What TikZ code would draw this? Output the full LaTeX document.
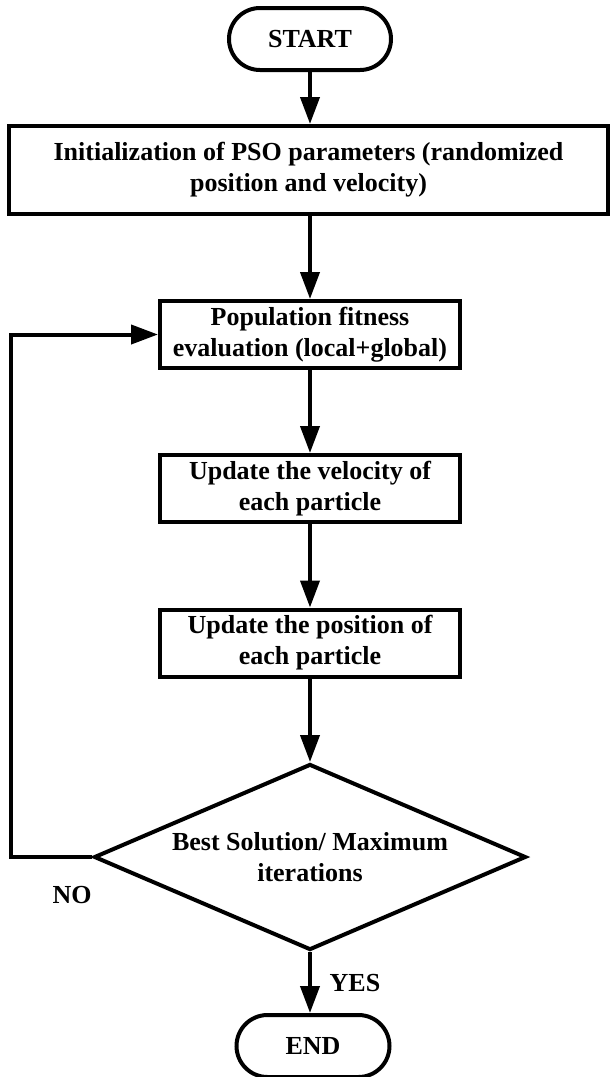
\documentclass[tikz,border=0pt]{standalone}
\usepackage{fontspec}
\setmainfont{Liberation Serif}
\usetikzlibrary{shapes.geometric,arrows.meta}
\begin{document}
\begin{tikzpicture}[x=1pt,y=-1pt,
  every node/.style={font=\fontsize{26}{31}\selectfont\bfseries},
  box/.style={draw,line width=4pt,align=center,inner sep=0pt},
  term/.style={box,rounded corners=31pt,minimum width=162pt,minimum height=62pt},
  proc/.style={box,minimum width=300pt,minimum height=67pt},
  decision/.style={draw,line width=4pt,diamond,aspect=2.29,align=center,inner sep=0pt,minimum width=432pt,minimum height=186pt},
  arr/.style={line width=4pt,-{Triangle[width=19pt,length=27pt]}},
  lbl/.style={inner sep=0pt}]
\useasboundingbox (0,0) rectangle (610,1077);
\node[term] (start) at (310,39) {START};
\node[proc,minimum width=599pt,minimum height=88pt] (init) at (308.5,170) {Initialization of PSO parameters (randomized\\position and velocity)};
\node[proc] (pop) at (310,334.5) {Population fitness\\evaluation (local+global)};
\node[proc] (vel) at (310,488.5) {Update the velocity of\\each particle};
\node[proc] (pos) at (310,643) {Update the position of\\each particle};
\node[decision] (dec) at (310,857) {Best Solution/ Maximum\\iterations};
\node[term,minimum width=153pt] (end) at (313,1046) {END};
\coordinate (lx) at (11,0);
\node[lbl] (no) at (72,895) {NO};
\node[lbl] (yes) at (355,983) {YES};
\draw[arr] (start) -- (start |- init.north);
\draw[arr] (start |- init.south) -- (pop);
\draw[arr] (pop) -- (vel);
\draw[arr] (vel) -- (pos);
\draw[arr] (pos) -- (dec);
\draw[arr] (dec.south) -- (dec.south |- end.north);
\draw[arr] (dec.west) -- (dec.west -| lx) |- (pop.west);
\end{tikzpicture}
\end{document}
